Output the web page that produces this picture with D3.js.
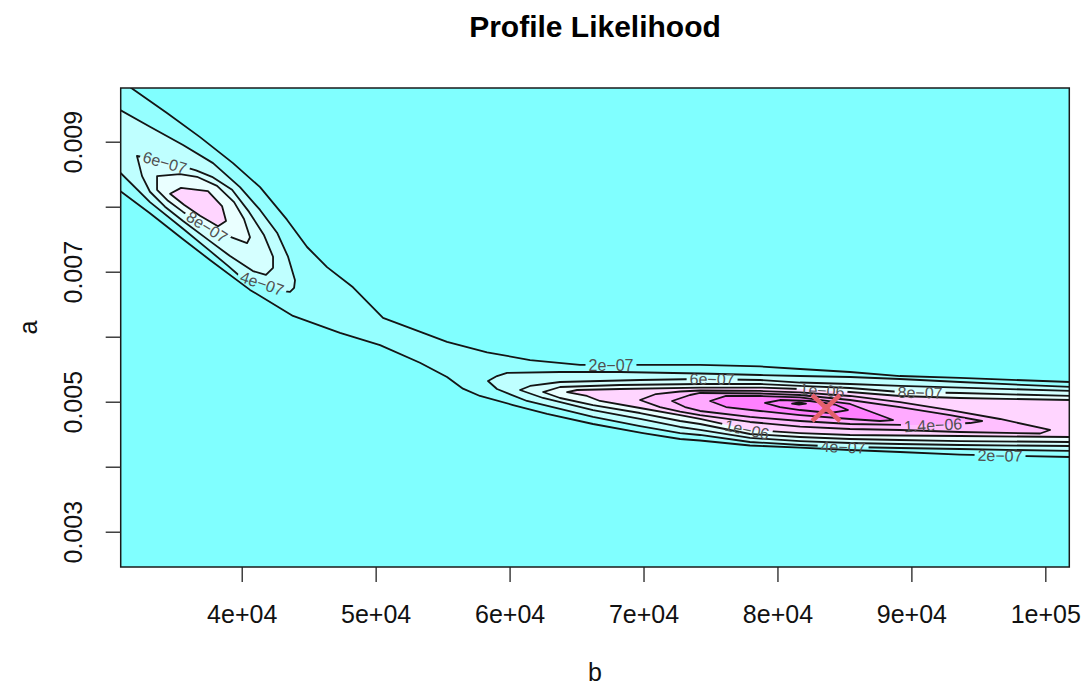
<!DOCTYPE html>
<html>
<head>
<meta charset="utf-8">
<script src="https://cdn.jsdelivr.net/npm/d3@7"></script>
<style>
  body { margin: 0; background: #fff; }
  svg { display: block; }
  text { font-family: "Liberation Sans", Arial, Helvetica, sans-serif; }
</style>
</head>
<body>
<svg id="chart" width="1086" height="687"></svg>
<script>
// ---- Profile likelihood surface: contour levels and axis settings ----
const levels = [2e-7, 4e-7, 6e-7, 8e-7, 1e-6, 1.2e-6, 1.4e-6, 1.6e-6, 1.8e-6, 2e-6];
const zMax = 1.85e-6;                // top of the colour range
const nColours = 12;                 // cm.colors(12)
const bRange = [30965, 101790];      // b extent of the grid
const aRange = [0.002457, 0.009826]; // a extent of the grid
const xTicks = [40000, 50000, 60000, 70000, 80000, 90000, 100000];
const xTickLabels = ["4e+04", "5e+04", "6e+04", "7e+04", "8e+04", "9e+04", "1e+05"];
const yTicks = [0.003, 0.004, 0.005, 0.006, 0.007, 0.008, 0.009];
const yTickLabels = ["0.003", "", "0.005", "", "0.007", "", "0.009"];
const mle = [83630, 0.004903];       // maximum likelihood estimate (b, a)

// ---- Contour lines, as [b, a] vertices ----
// 2e-07: the long ridge, upper and lower edges
const ridge2Upper = [[31250,0.00990],[31730,0.00983],[34420,0.00944],[36890,0.00907],[39350,0.00867],[41370,0.00830],[43380,0.00780],[44880,0.00738],[46370,0.00707],[48310,0.00676],[50550,0.00629],[53540,0.00606],[55330,0.00592],[58320,0.00576],[61530,0.00564],[65260,0.005565],[69960,0.005565],[74220,0.005565],[78700,0.005542],[81690,0.005503],[85420,0.005457],[89150,0.005395],[93630,0.005365],[101900,0.005303]];
const ridge2Lower = [[30800,0.00826],[33150,0.00790],[35620,0.00750],[37630,0.00718],[40620,0.00672],[43830,0.00632],[47340,0.00606],[50330,0.00587],[53310,0.00560],[55330,0.00538],[56520,0.00520],[57790,0.005088],[60260,0.004949],[62800,0.004811],[66230,0.004657],[69960,0.004518],[72730,0.004426],[74220,0.004403],[77950,0.004326],[81690,0.004295],[85420,0.004257],[89150,0.004226],[93630,0.004186],[101900,0.004149]];

// upper-left local mode
const ul4 = [[30900,0.00949],[33150,0.00923],[35620,0.00895],[37860,0.00867],[39870,0.00830],[41370,0.00795],[42640,0.00760],[43460,0.00723],[43980,0.00687],[43910,0.00675],[43610,0.00669],[43090,0.00670],[39870,0.00693],[38980,0.00709],[37630,0.00732],[35620,0.00766],[33150,0.00807],[30900,0.00853]];
const ul6 = [[32180,0.00878],[32560,0.00847],[33150,0.00823],[34270,0.00800],[35620,0.00778],[37630,0.00747],[39130,0.00724],[40840,0.00701],[41810,0.00695],[42340,0.00706],[42340,0.00723],[41670,0.00756],[40550,0.00792],[39280,0.00826],[37780,0.00846],[36590,0.00856],[34270,0.00870]];
const ul8 = [[33680,0.00847],[33680,0.00826],[34500,0.00809],[35620,0.00792],[37630,0.00766],[39350,0.00752],[40400,0.00744],[40620,0.00753],[40170,0.00781],[39430,0.00807],[38160,0.00832],[36660,0.00846],[35390,0.00850]];
const ul10 = [[34650,0.00820],[35470,0.00829],[37480,0.00824],[38530,0.00801],[38830,0.00778],[38230,0.00770],[36890,0.00786],[35690,0.00803]];

// main mode on the right
const r4 = [[101900,0.005226],[93630,0.005303],[89150,0.005349],[85420,0.005380],[81690,0.005395],[78700,0.005411],[74220,0.005434],[68250,0.005457],[63770,0.005457],[59810,0.005442],[59060,0.005395],[58390,0.005318],[59060,0.005195],[61300,0.005011],[66230,0.004765],[69740,0.004626],[72730,0.004518],[74220,0.004488],[77950,0.004380],[81690,0.004334],[85420,0.004303],[89150,0.004288],[93630,0.004272],[101900,0.004242]];
const r6 = [[101900,0.005165],[93630,0.005218],[89150,0.005242],[85420,0.005272],[81690,0.005295],[78700,0.005334],[74220,0.005349],[69740,0.005334],[63770,0.005303],[61530,0.005242],[60780,0.005180],[62500,0.005057],[66230,0.004872],[69740,0.004734],[72730,0.004611],[74220,0.004565],[77950,0.004442],[81690,0.004395],[85420,0.004365],[89150,0.004349],[93630,0.004334],[101900,0.004318]];
const r8 = [[101900,0.005088],[93630,0.005134],[89150,0.005149],[85420,0.005211],[81690,0.005242],[78700,0.005272],[74220,0.005272],[68250,0.005257],[63770,0.005226],[62500,0.005149],[63770,0.005057],[66230,0.004949],[69740,0.004826],[72730,0.004703],[74220,0.004657],[77950,0.004503],[81690,0.004457],[85420,0.004426],[89150,0.004411],[93630,0.004395],[101900,0.004380]];
const r10 = [[101900,0.005026],[93630,0.005057],[89150,0.005088],[85420,0.005149],[81690,0.005195],[78700,0.005218],[74220,0.005218],[68250,0.005195],[65040,0.005180],[64290,0.005149],[65780,0.005088],[66750,0.005011],[69740,0.004903],[72730,0.004795],[74220,0.004734],[77950,0.004565],[81690,0.004518],[85420,0.004488],[89150,0.004480],[93630,0.004472],[101900,0.004457]];
const r12 = [[69740,0.005026],[70930,0.005118],[72730,0.005157],[74220,0.005172],[78700,0.005165],[81690,0.005142],[85420,0.005088],[89150,0.004995],[92890,0.004872],[96620,0.004734],[100350,0.004565],[99610,0.004511],[93630,0.004534],[89150,0.004565],[85420,0.004580],[81690,0.004618],[77950,0.004688],[74220,0.004795],[72730,0.004849],[71230,0.004918]];
const r14 = [[72130,0.005011],[73470,0.005103],[74220,0.005134],[78700,0.005126],[81690,0.005103],[85420,0.005026],[89150,0.004918],[92890,0.004795],[95280,0.004703],[94380,0.004672],[91390,0.004642],[89150,0.004642],[85420,0.004657],[81690,0.004703],[77950,0.004765],[74220,0.004857],[73100,0.004918]];
const r16 = [[74970,0.005011],[76160,0.005088],[78700,0.005088],[81690,0.005065],[85420,0.004965],[88630,0.004718],[87660,0.004703],[85420,0.004734],[81690,0.004795],[78700,0.004857],[76160,0.004918]];
const r18 = [[79070,0.004980],[80190,0.005026],[82430,0.005011],[84300,0.004957],[85270,0.004872],[83930,0.004826],[81690,0.004872],[80190,0.004918]];
const r20 = [[81090,0.004972],[81610,0.004988],[82130,0.004972],[81610,0.004957]];

// ---- Contour labels: text and the point on its line ----
const labelText = ["2e\u221207", "2e\u221207", "4e\u221207", "4e\u221207", "6e\u221207", "6e\u221207", "8e\u221207", "8e\u221207", "1e\u221206", "1e\u221206", "1.4e\u221206"];
const labelLine = [ridge2Upper, ridge2Lower, ul4, r4, ul6, r6, ul8, r8, r10, r10, r14];
const labelAt = [[67570,0.005565],[96620,0.004172],[41520,0.00682],[84900,0.004303],[34270,0.00868],[75120,0.005349],[37410,0.00769],[90650,0.005142],[77730,0.004572],[83330,0.005175],[91620,0.004642]];

// ---- Layout ----
const svg = d3.select("#chart");
const W = 1086, H = 687;
const plot = { left: 120.7, right: 1069.3, top: 88, bottom: 567 };
const x = d3.scaleLinear().domain(bRange).range([plot.left, plot.right]);
const y = d3.scaleLinear().domain(aRange).range([plot.bottom, plot.top]);
const line = d3.line().x(d => x(d[0])).y(d => y(d[1]));

// R's cm.colors(n): cyan -> white -> magenta
function cmColors(n) {
  const even = n % 2 === 0, k = Math.floor(n / 2);
  const l1 = k + 1 - (even ? 1 : 0), l2 = n - k + (even ? 1 : 0);
  const end = even ? 0.5 / k : 0;
  const out = [];
  for (let i = 0; i < l1; i++) {
    const s = l1 > 1 ? 0.5 + (end - 0.5) * i / (l1 - 1) : 0.5;
    out.push(d3.rgb(255 * (1 - s), 255, 255).formatHex());
  }
  for (let i = 1; i < l2; i++) {
    const s = 0.5 * i / (l2 - 1);
    out.push(d3.rgb(255, 255 * (1 - s), 255).formatHex());
  }
  return out;
}
const palette = cmColors(nColours);
const colourOf = v => palette[Math.max(0, Math.min(nColours - 1, Math.floor(v / zMax * nColours)))];
const step = levels[1] - levels[0];

// Table of contour pieces built from the arrays above
const ridgeFill = ridge2Upper.concat(ridge2Lower.slice().reverse(), [[bRange[0] - 500, aRange[1] + 0.0001]]);
const pieces = [
  { level: levels[0], fill: ridgeFill, lines: [ridge2Upper, ridge2Lower], closed: false },
  { level: levels[1], fill: ul4, lines: [ul4], closed: false },
  { level: levels[1], fill: r4, lines: [r4], closed: false },
  { level: levels[2], fill: ul6, lines: [ul6], closed: true },
  { level: levels[2], fill: r6, lines: [r6], closed: false },
  { level: levels[3], fill: ul8, lines: [ul8], closed: true },
  { level: levels[3], fill: r8, lines: [r8], closed: false },
  { level: levels[4], fill: ul10, lines: [ul10], closed: true },
  { level: levels[4], fill: r10, lines: [r10], closed: false },
  { level: levels[5], fill: r12, lines: [r12], closed: true },
  { level: levels[6], fill: r14, lines: [r14], closed: true },
  { level: levels[7], fill: r16, lines: [r16], closed: true },
  { level: levels[8], fill: r18, lines: [r18], closed: true },
  { level: levels[9], fill: r20, lines: [r20], closed: true }
];

const defs = svg.append("defs");
defs.append("clipPath").attr("id", "plotClip")
  .append("rect")
  .attr("x", plot.left).attr("y", plot.top)
  .attr("width", plot.right - plot.left).attr("height", plot.bottom - plot.top);

// ---- Filled bands (each band coloured at its mid value) ----
const gFill = svg.append("g").attr("clip-path", "url(#plotClip)");
gFill.append("rect")
  .attr("x", plot.left).attr("y", plot.top)
  .attr("width", plot.right - plot.left).attr("height", plot.bottom - plot.top)
  .attr("fill", colourOf(levels[0] / 2));
pieces.forEach(p => {
  gFill.append("path")
    .attr("d", line(p.fill) + "Z")
    .attr("fill", colourOf(p.level + step / 2))
    .attr("stroke", "none");
});

// ---- Contour lines ----
const gLines = svg.append("g").attr("clip-path", "url(#plotClip)");
const linePaths = [];
pieces.forEach(p => {
  p.lines.forEach(pts => {
    const path = gLines.append("path")
      .attr("d", line(pts) + (p.closed ? "Z" : ""))
      .attr("fill", "none")
      .attr("stroke", "#141414")
      .attr("stroke-width", 1.8)
      .attr("stroke-linejoin", "round");
    linePaths.push({ pts, closed: p.closed, path });
  });
});

// angle of the nearest segment of a line, in screen space
function angleAt(pts, closed, px, py) {
  const P = pts.map(d => [x(d[0]), y(d[1])]);
  const n = closed ? P.length : P.length - 1;
  let best = 0, bestD = Infinity;
  for (let i = 0; i < n; i++) {
    const p = P[i], q = P[(i + 1) % P.length];
    const dx = q[0] - p[0], dy = q[1] - p[1];
    const L2 = dx * dx + dy * dy || 1;
    let t = ((px - p[0]) * dx + (py - p[1]) * dy) / L2;
    t = Math.max(0, Math.min(1, t));
    const ex = p[0] + t * dx - px, ey = p[1] + t * dy - py;
    const dist = ex * ex + ey * ey;
    if (dist < bestD) { bestD = dist; best = Math.atan2(dy, dx) * 180 / Math.PI; }
  }
  if (best > 90) best -= 180;
  if (best < -90) best += 180;
  return best;
}

// ---- Contour labels (with gaps cut in their own lines) ----
const gLab = svg.append("g").attr("clip-path", "url(#plotClip)");
const gaps = new Map();
labelText.forEach((txt, i) => {
  const pts = labelLine[i];
  const lp = linePaths.find(l => l.pts === pts);
  const px = x(labelAt[i][0]), py = y(labelAt[i][1]);
  const ang = angleAt(pts, lp.closed, px, py);
  const t = gLab.append("text")
    .attr("transform", `translate(${px},${py}) rotate(${ang})`)
    .attr("text-anchor", "middle")
    .attr("dy", "0.36em")
    .attr("font-size", 16)
    .attr("fill", "#505050")
    .text(txt);
  const w = t.node().getComputedTextLength();
  if (!gaps.has(lp)) gaps.set(lp, []);
  gaps.get(lp).push({ px, py, ang, w });
});
let mi = 0;
gaps.forEach((list, lp) => {
  const id = "gap" + (mi++);
  const m = defs.append("mask").attr("id", id).attr("maskUnits", "userSpaceOnUse")
    .attr("x", 0).attr("y", 0).attr("width", W).attr("height", H);
  m.append("rect").attr("x", 0).attr("y", 0).attr("width", W).attr("height", H).attr("fill", "#fff");
  list.forEach(g => {
    m.append("rect")
      .attr("x", -g.w / 2 - 3).attr("y", -5).attr("width", g.w + 6).attr("height", 10)
      .attr("transform", `translate(${g.px},${g.py}) rotate(${g.ang})`)
      .attr("fill", "#000");
  });
  lp.path.attr("mask", `url(#${id})`);
});

// ---- Maximum likelihood estimate ----
const mx = x(mle[0]), my = y(mle[1]);
const gMark = svg.append("g").attr("stroke", "#E4606C").attr("stroke-width", 4.5);
gMark.append("line").attr("x1", mx - 14).attr("y1", my - 13).attr("x2", mx + 14).attr("y2", my + 13);
gMark.append("line").attr("x1", mx - 14).attr("y1", my + 13).attr("x2", mx + 14).attr("y2", my - 13);

// ---- Frame ----
svg.append("rect")
  .attr("x", plot.left).attr("y", plot.top)
  .attr("width", plot.right - plot.left).attr("height", plot.bottom - plot.top)
  .attr("fill", "none").attr("stroke", "#1a1a1a").attr("stroke-width", 1.5);

// ---- Axes ----
const gx = svg.append("g")
  .attr("transform", `translate(0,${plot.bottom})`)
  .call(d3.axisBottom(x).tickValues(xTicks).tickFormat((d, i) => xTickLabels[i]).tickSize(15));
gx.select(".domain").remove();
gx.selectAll(".tick line").attr("stroke", "#222").attr("stroke-width", 1.3);
gx.selectAll(".tick text")
  .attr("y", 56).attr("dy", 0)
  .attr("font-size", 25).attr("fill", "#111")
  .style("font-family", "'Liberation Sans', Arial, sans-serif");

const gy = svg.append("g")
  .attr("transform", `translate(${plot.left},0)`)
  .call(d3.axisLeft(y).tickValues(yTicks).tickFormat((d, i) => yTickLabels[i]).tickSize(15));
gy.select(".domain").remove();
gy.selectAll(".tick line").attr("stroke", "#222").attr("stroke-width", 1.3);
gy.selectAll(".tick text")
  .attr("transform", "rotate(-90)")
  .attr("x", 0).attr("y", -38.7).attr("dy", 0)
  .attr("text-anchor", "middle")
  .attr("font-size", 25).attr("fill", "#111")
  .style("font-family", "'Liberation Sans', Arial, sans-serif");

// ---- Titles ----
const cx = (plot.left + plot.right) / 2, cy = (plot.top + plot.bottom) / 2;
svg.append("text").attr("x", cx).attr("y", 37).attr("text-anchor", "middle")
  .attr("font-size", 30).attr("font-weight", "bold").attr("fill", "#000")
  .text("Profile Likelihood");
svg.append("text").attr("x", cx).attr("y", 681).attr("text-anchor", "middle")
  .attr("font-size", 25).attr("fill", "#111").text("b");
svg.append("text").attr("transform", `translate(37,${cy}) rotate(-90)`).attr("text-anchor", "middle")
  .attr("font-size", 25).attr("fill", "#111").text("a");
</script>
</body>
</html>
